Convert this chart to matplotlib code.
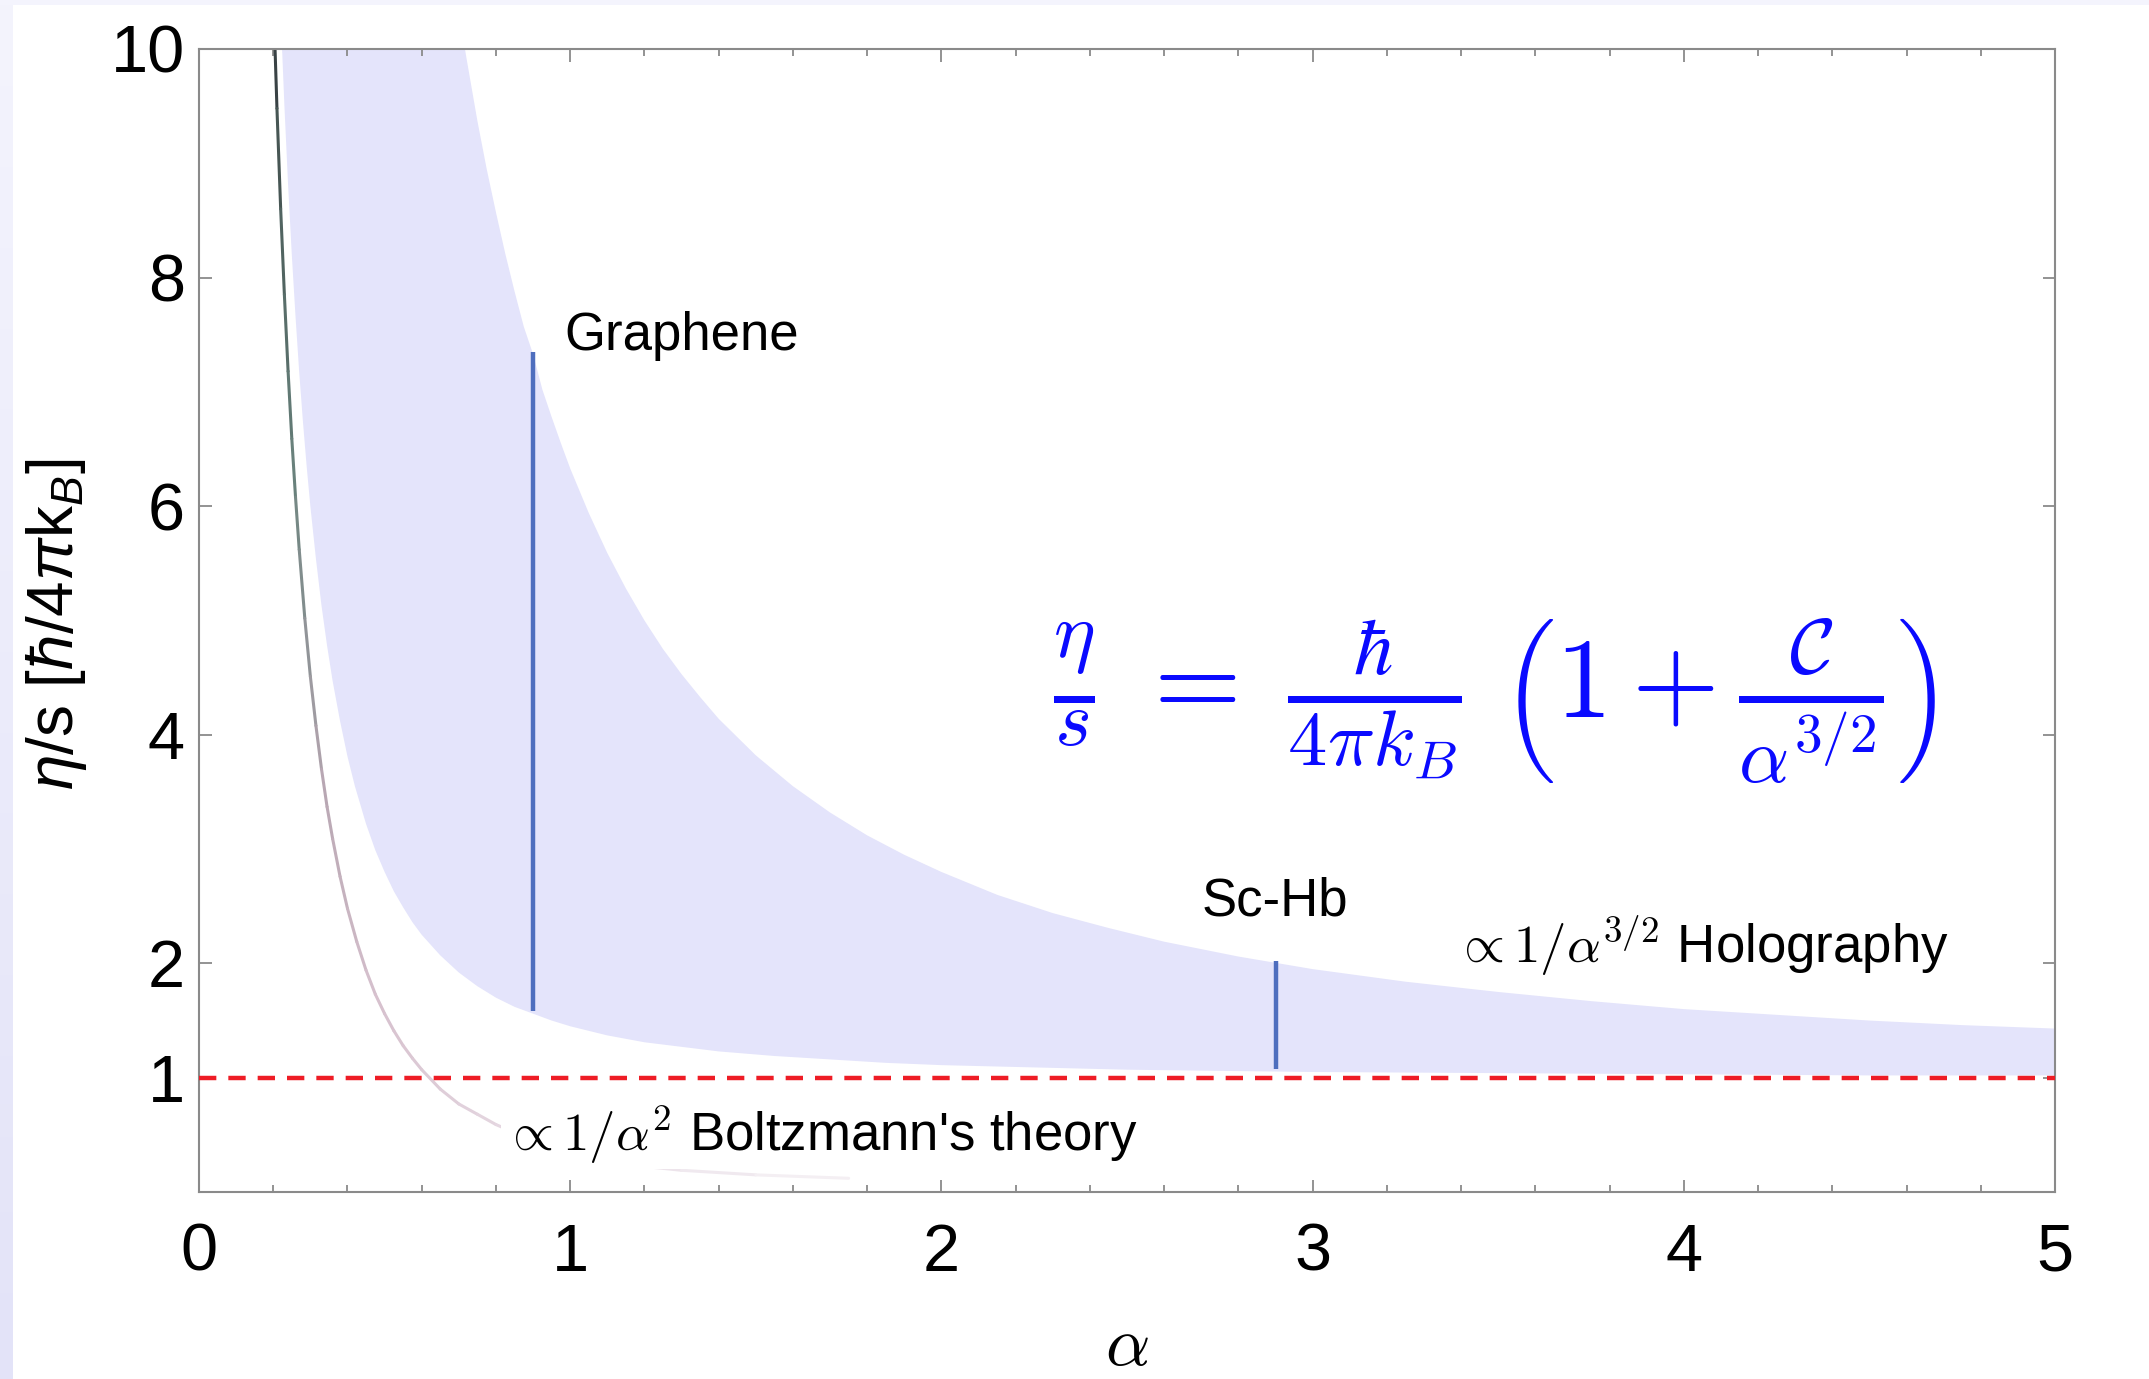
import numpy as np
import matplotlib
matplotlib.use("Agg")
import matplotlib.pyplot as plt
from matplotlib.collections import LineCollection
from matplotlib.colors import LinearSegmentedColormap
from matplotlib.patches import Rectangle

plt.rcParams['font.family'] = ['Liberation Sans', 'DejaVu Sans']
plt.rcParams['mathtext.fontset'] = 'custom'
plt.rcParams['mathtext.rm'] = 'Liberation Sans'
plt.rcParams['mathtext.it'] = 'Liberation Sans:italic'
plt.rcParams['mathtext.bf'] = 'Liberation Sans:bold'

# upper edge of the band (holography, ~1/alpha^{3/2})
alpha_up = [0.70, 0.72, 0.75, 0.775, 0.80, 0.825, 0.85, 0.875, 0.90, 0.925,
            0.95, 0.975, 1.00, 1.05, 1.10, 1.15, 1.20, 1.25, 1.30, 1.35, 1.40,
            1.50, 1.60, 1.70, 1.80, 1.90, 2.00, 2.15, 2.30, 2.45, 2.60, 2.80,
            3.00, 3.25, 3.50, 3.75, 4.00, 4.25, 4.50, 4.75, 5.00]
eta_up = [10.33, 9.93, 9.37, 8.95, 8.57, 8.21, 7.88, 7.57, 7.33, 7.02,
          6.78, 6.55, 6.33, 5.94, 5.59, 5.28, 5.00, 4.75, 4.53, 4.33, 4.14,
          3.82, 3.55, 3.32, 3.12, 2.95, 2.80, 2.60, 2.44, 2.31, 2.19, 2.06,
          1.95, 1.84, 1.75, 1.67, 1.60, 1.55, 1.50, 1.46, 1.43]

# lower edge of the band
alpha_lo = [0.21, 0.22, 0.23, 0.24, 0.25, 0.26, 0.27, 0.28, 0.29, 0.30, 0.315,
            0.33, 0.345, 0.36, 0.38, 0.40, 0.42, 0.45, 0.475, 0.50, 0.525,
            0.55, 0.575, 0.60, 0.65, 0.70, 0.75, 0.80, 0.85, 0.90, 0.95, 1.00,
            1.10, 1.20, 1.30, 1.40, 1.55, 1.70, 1.85, 2.00, 2.25, 2.50, 2.75,
            3.00, 3.50, 4.00, 4.50, 5.00]
eta_lo = [11.20, 10.30, 9.51, 8.81, 8.20, 7.66, 7.17, 6.74, 6.35, 6.00, 5.54,
          5.13, 4.78, 4.47, 4.12, 3.81, 3.55, 3.22, 2.99, 2.80, 2.63,
          2.49, 2.36, 2.25, 2.07, 1.92, 1.80, 1.70, 1.62, 1.56, 1.50, 1.45,
          1.37, 1.31, 1.27, 1.23, 1.19, 1.16, 1.13, 1.11, 1.09, 1.07, 1.06,
          1.05, 1.04, 1.03, 1.02, 1.02]

# Boltzmann curve (~1/alpha^2)
alpha_bz = [0.195, 0.20, 0.21, 0.22, 0.23, 0.24, 0.25, 0.26, 0.27, 0.285,
            0.30, 0.315, 0.33, 0.345, 0.36, 0.38, 0.40, 0.425, 0.45, 0.475,
            0.50, 0.525, 0.55, 0.575, 0.60, 0.65, 0.70, 0.75, 0.80, 0.85,
            0.90, 0.95, 1.00, 1.15, 1.30, 1.50, 1.75]
eta_bz = [11.06, 10.49, 9.48, 8.60, 7.85, 7.18, 6.59, 6.08, 5.62, 5.02,
          4.51, 4.08, 3.70, 3.37, 3.09, 2.76, 2.48, 2.19, 1.94, 1.73,
          1.56, 1.41, 1.28, 1.17, 1.07, 0.90, 0.77, 0.68, 0.59, 0.52,
          0.45, 0.38, 0.33, 0.24, 0.19, 0.15, 0.12]

# materials: name, alpha, eta/s range
materials = ['Graphene', 'Sc-Hb']
mat_alpha = [0.90, 2.90]
mat_lo = [1.58, 1.08]
mat_hi = [7.35, 2.02]

kss_bound = 1.0

fig = plt.figure(figsize=(21.49, 13.79), dpi=100)

# screenshot border strips
bg = fig.add_axes([0, 0, 13 / 2149, 1])
grad = np.linspace(0, 1, 256).reshape(-1, 1)
bg.imshow(grad, aspect='auto', cmap=LinearSegmentedColormap.from_list(
    'edge', ['#f4f4fd', '#e3e3f8']), extent=[0, 1, 0, 1], origin='upper')
bg.axis('off')
fig.add_artist(Rectangle((0, 1 - 5 / 1379), 1, 5 / 1379,
                         transform=fig.transFigure, color='#f4f4fd', lw=0))

ax = fig.add_axes([0.0926, 0.1356, 0.8637, 0.8289])

# shaded band
band_x = list(alpha_up) + list(alpha_lo[::-1])
band_y = list(eta_up) + list(eta_lo[::-1])
ax.fill(band_x, band_y, color='#e4e4fb', lw=0, zorder=1)

# Boltzmann curve with fading colour
pts = np.column_stack([alpha_bz, eta_bz]).reshape(-1, 1, 2)
segs = np.concatenate([pts[:-1], pts[1:]], axis=1)
cmap = LinearSegmentedColormap.from_list('bz', [
    (0.0, '#2b2b38'), (0.08, '#3e4a4a'), (0.2, '#66807a'),
    (0.32, '#b8a7b3'), (0.45, '#d6c0cd'), (0.7, '#e6d9e2'), (1.0, '#f4eff3')])
t = (np.array(alpha_bz[:-1]) - alpha_bz[0]) / (alpha_bz[-2] - alpha_bz[0])
t = np.sqrt(t)
lc = LineCollection(segs, colors=cmap(t), linewidths=2.2, zorder=2,
                    capstyle='round', joinstyle='round')
ax.add_collection(lc)

# KSS bound
ax.axhline(kss_bound, color='#ee1c25', lw=3.2, ls=(0, (3.9, 2.7)), zorder=3)

# material bars
ax.vlines(mat_alpha, mat_lo, mat_hi, color='#4e6ebe', lw=3.2, zorder=4)

ax.text(0.985, 7.49, 'Graphene', fontsize=38, ha='left', va='center')
ax.text(2.70, 2.54, 'Sc-Hb', fontsize=38, ha='left', va='center')
ax.text(3.38, 2.15, r'$\propto 1/\alpha^{3/2}$ Holography', fontsize=38,
        ha='left', va='center', math_fontfamily='cm')
ax.text(0.82, 0.50, r"$\propto 1/\alpha^{2}$ Boltzmann's theory", fontsize=38,
        ha='left', va='center', math_fontfamily='cm', zorder=5,
        bbox=dict(fc='white', ec='none', pad=2))

ax.text(3.49, 4.29,
        r'$\frac{\eta}{s}\;=\;\frac{\hbar}{4\pi k_B}\;\left(1+\frac{\mathcal{C}}{\alpha^{3/2}}\right)$',
        fontsize=81, color='#0a0aff', ha='center', va='center',
        math_fontfamily='cm')

ax.set_xlim(0, 5)
ax.set_ylim(0, 10)
ax.set_xticks([0, 1, 2, 3, 4, 5])
ax.set_xticks(np.arange(0, 5.01, 0.2), minor=True)
ax.set_yticks([1, 2, 4, 6, 8, 10])
ax.tick_params(which='both', direction='in', top=True, right=True,
               color='#8a8a8a', width=1.3)
ax.tick_params(which='major', length=9, labelsize=48)
ax.tick_params(which='minor', length=5)
ax.tick_params(axis='x', pad=22)
ax.tick_params(axis='y', pad=10)
for sp in ax.spines.values():
    sp.set_color('#8a8a8a')
    sp.set_linewidth(1.5)

ax.set_xlabel(r'$\alpha$', fontsize=50, math_fontfamily='cm', labelpad=22)
ax.set_ylabel(r'$\eta$/s [$\hbar$/4$\pi$k$_B$]', fontsize=46,
              math_fontfamily='custom')
ax.yaxis.set_label_coords(-0.059, 0.497)

fig.savefig('out.png', dpi=100)
